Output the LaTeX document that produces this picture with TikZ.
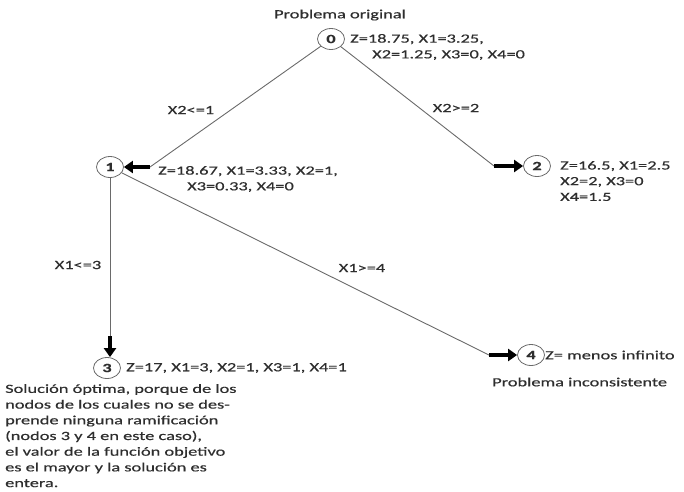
\documentclass[tikz,border=0pt]{standalone}
\usepackage{fontspec}
\setmainfont{Carlito}[FakeStretch=1.47,FakeBold=0.5]
\usetikzlibrary{arrows.meta,shapes.geometric}
\definecolor{txt}{HTML}{2E2E2E}
\definecolor{linec}{HTML}{6A6A6A}
\begin{document}
\begin{tikzpicture}[x=1pt,y=-1pt,
  every node/.style={font=\fontsize{12.5}{15.7}\selectfont, text=txt},
  st/.style={draw=linec, ellipse, minimum width=27pt, minimum height=21pt, inner sep=0pt, line width=0.8pt, font=\fontsize{12.5}{15.7}\selectfont\bfseries},
  thinline/.style={draw=linec, line width=0.9pt},
  fat/.style={line width=4.5pt, -{Triangle[length=9pt,width=12pt]}, black},
  lbl/.style={anchor=west, inner sep=0pt, align=left}]
\useasboundingbox (0,0) rectangle (684,491);

% state nodes
\node[st] (n0) at (331,39) {0};
\node[st] (n1) at (110,167) {1};
\node[st] (n2) at (537,166) {2};
\node[st] (n3) at (107,368) {3};
\node[st] (n4) at (531,355) {4};

% bend points
\coordinate (c01) at (150,167);
\coordinate (c02) at (494,166);
\coordinate (c13) at (110,336);
\coordinate (c14) at (489,355);

% connectors
\draw[thinline] (n0) -- (c01);
\draw[fat] (c01) -- (n1);
\draw[thinline] (n0) -- (c02);
\draw[fat] (c02) -- (n2);
\draw[thinline] (n1) -- (c13);
\draw[fat] (c13) -- (c13 |- n3.north);
\draw[thinline] (n1) -- (c14);
\draw[fat] (c14) -- (n4);

% branch labels
\node (l01) at (191,110) {X2<=1};
\node (l02) at (456,108) {X2>=2};
\node (l13) at (78,265) {X1<=3};
\node (l14) at (362,268) {X1>=4};

% texts
\node (t0) at (340,15) {Problema original};
\node[lbl] (z0) at (350,47) {Z=18.75, X1=3.25,\\\hspace{22pt}X2=1.25, X3=0, X4=0};
\node[lbl] (z1) at (158,179) {Z=18.67, X1=3.33, X2=1,\\\hspace{29pt}X3=0.33, X4=0};
\node[lbl] (z2) at (560,181) {Z=16.5, X1=2.5\\X2=2, X3=0\\X4=1.5};
\node[lbl] (z3) at (126,368) {Z=17, X1=3, X2=1, X3=1, X4=1};
\node[lbl] (z4) at (545,355) {Z= menos infinito};
\node[lbl] (t4) at (492,382) {Problema inconsistente};
\node[lbl, anchor=north west] (t3) at (5,384) {Solución óptima, porque de los\\nodos de los cuales no se des-\\prende ninguna ramificación\\(nodos 3 y 4 en este caso),\\el valor de la función objetivo\\es el mayor y la solución es\\entera.};
\end{tikzpicture}
\end{document}
